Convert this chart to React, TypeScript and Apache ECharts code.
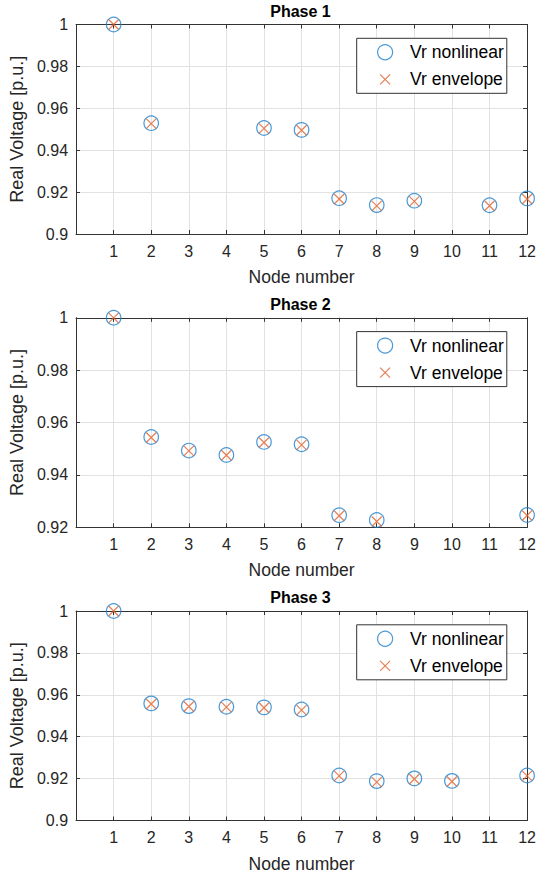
import React, { useEffect, useRef } from "react";
import * as echarts from "echarts";

const nodes = [1, 2, 3, 4, 5, 6, 7, 8, 9, 10, 11, 12];
const xTickLabels = ["", "1", "2", "3", "4", "5", "6", "7", "8", "9", "10", "11", "12"];
const phaseTitles = ["Phase 1", "Phase 2", "Phase 3"];
const seriesNames = ["Vr nonlinear", "Vr envelope"];
const yMins = [0.9, 0.92, 0.9];

const phase1Nonlinear = [1.0, 0.9529, null, null, 0.9506, 0.9497, 0.9171, 0.9138, 0.9159, null, 0.9137, 0.917];
const phase1Envelope = [1.0, 0.9527, null, null, 0.9504, 0.9495, 0.9167, 0.9134, 0.9156, null, 0.9135, 0.9167];
const phase2Nonlinear = [1.0, 0.9545, 0.9493, 0.9476, 0.9526, 0.9517, 0.9246, 0.9228, null, null, null, 0.9247];
const phase2Envelope = [1.0, 0.9543, 0.9492, 0.9475, 0.9524, 0.9515, 0.9244, 0.9222, null, null, null, 0.9245];
const phase3Nonlinear = [1.0, 0.9559, 0.9546, 0.9543, 0.954, 0.953, 0.9215, 0.9188, 0.9201, 0.9189, null, 0.9215];
const phase3Envelope = [1.0, 0.9556, 0.9544, 0.9541, 0.9538, 0.9527, 0.9213, 0.9183, 0.9198, 0.9186, null, 0.9213];

const nonlinearByPhase = [phase1Nonlinear, phase2Nonlinear, phase3Nonlinear];
const envelopeByPhase = [phase1Envelope, phase2Envelope, phase3Envelope];

const FONT = "'Liberation Sans', Arial, Helvetica, sans-serif";
const TEXT = "#262626";
const AXIS = "#333333";
const GRIDC = "#e2e2e2";
const BLUE = "#1f7fcc";
const ORANGE = "#e0602a";
const XPATH = "path://M0,0L10,10M0,10L10,0";
const XPATH_LEGEND = "path://M-2.5,-2.5M0,0L10,10M0,10L10,0M12.5,12.5";

const gridLeft = 73;
const gridWidth = 455;
const gridTops = [24.5, 317.8, 611];
const gridHeight = 209.5;

function pairs(vals: (number | null)[]) {
  const out: number[][] = [];
  vals.forEach((v, i) => {
    if (v !== null) out.push([nodes[i], v]);
  });
  return out;
}

function buildOption() {
  const grid: any[] = [];
  const xAxis: any[] = [];
  const yAxis: any[] = [];
  const series: any[] = [];
  const title: any[] = [];
  const legend: any[] = [];

  for (let p = 0; p < 3; p++) {
    const top = gridTops[p];
    grid.push({ left: gridLeft, top, width: gridWidth, height: gridHeight, containLabel: false });
    title.push({
      text: phaseTitles[p],
      left: gridLeft + gridWidth / 2,
      textAlign: "center",
      top: top - 21.5,
      padding: 0,
      textStyle: { fontFamily: FONT, fontSize: 16, fontWeight: "bold", color: "#000" },
    });
    xAxis.push({
      type: "value",
      gridIndex: p,
      min: 0,
      max: 12,
      interval: 1,
      position: "bottom",
      name: "Node number",
      nameLocation: "middle",
      nameGap: 34,
      nameTextStyle: { fontFamily: FONT, fontSize: 17.5, color: TEXT },
      axisLine: { show: true, onZero: false, lineStyle: { color: AXIS, width: 1 } },
      axisTick: { show: true, inside: true, length: 4, lineStyle: { color: AXIS } },
      axisLabel: {
        fontFamily: FONT,
        fontSize: 16,
        color: TEXT,
        margin: 9,
        formatter: (v: number) => xTickLabels[Math.round(v)] ?? "",
      },
      splitLine: { show: true, lineStyle: { color: GRIDC, width: 1 } },
    });
    xAxis.push({
      type: "value",
      gridIndex: p,
      min: 0,
      max: 12,
      interval: 1,
      position: "top",
      axisLine: { show: true, onZero: false, lineStyle: { color: AXIS, width: 1 } },
      axisTick: { show: true, inside: true, length: 4, lineStyle: { color: AXIS } },
      axisLabel: { show: false },
      splitLine: { show: false },
    });
    yAxis.push({
      type: "value",
      gridIndex: p,
      min: yMins[p],
      max: 1,
      interval: 0.02,
      position: "left",
      name: "Real Voltage [p.u.]",
      nameLocation: "middle",
      nameGap: 41,
      nameTextStyle: { fontFamily: FONT, fontSize: 18, color: TEXT },
      axisLine: { show: true, onZero: false, lineStyle: { color: AXIS, width: 1 } },
      axisTick: { show: true, inside: true, length: 4, lineStyle: { color: AXIS } },
      axisLabel: {
        fontFamily: FONT,
        fontSize: 16,
        color: TEXT,
        margin: 8,
        formatter: (v: number) => String(parseFloat(v.toFixed(2))),
      },
      splitLine: { show: true, lineStyle: { color: GRIDC, width: 1 } },
    });
    yAxis.push({
      type: "value",
      gridIndex: p,
      min: yMins[p],
      max: 1,
      interval: 0.02,
      position: "right",
      axisLine: { show: true, onZero: false, lineStyle: { color: AXIS, width: 1 } },
      axisTick: { show: true, inside: true, length: 4, lineStyle: { color: AXIS } },
      axisLabel: { show: false },
      splitLine: { show: false },
    });

    series.push({
      type: "scatter",
      name: seriesNames[0],
      xAxisIndex: 2 * p,
      yAxisIndex: 2 * p,
      symbol: "circle",
      symbolSize: 14.5,
      clip: false,
      z: 3,
      itemStyle: { color: "rgba(0,0,0,0)", borderColor: BLUE, borderWidth: 1.2 },
      data: pairs(nonlinearByPhase[p]),
    });
    series.push({
      type: "scatter",
      name: seriesNames[1],
      xAxisIndex: 2 * p,
      yAxisIndex: 2 * p,
      symbol: XPATH,
      symbolSize: 10,
      clip: false,
      z: 4,
      itemStyle: { color: "rgba(0,0,0,0)", borderColor: ORANGE, borderWidth: 1.2 },
      data: pairs(envelopeByPhase[p]),
    });

    legend.push({
      orient: "vertical",
      left: 356.7,
      top: top + 13.8,
      padding: [5, 3, 5, 20.3],
      itemWidth: 40,
      itemHeight: 15,
      itemGap: 9,
      selectedMode: false,
      backgroundColor: "#fff",
      borderColor: AXIS,
      borderWidth: 1,
      borderRadius: 0,
      textStyle: { fontFamily: FONT, fontSize: 17.5, color: "#000" },
      data: [
        { name: seriesNames[0], icon: "circle", itemStyle: { color: "rgba(0,0,0,0)", borderColor: BLUE, borderWidth: 1.2 } },
        { name: seriesNames[1], icon: XPATH_LEGEND, itemStyle: { color: "rgba(0,0,0,0)", borderColor: ORANGE, borderWidth: 1.2 } },
      ],
    });
  }

  return {
    animation: false,
    backgroundColor: "#fff",
    title,
    legend,
    grid,
    xAxis,
    yAxis,
    series,
  };
}

export default function App() {
  const ref = useRef<HTMLDivElement | null>(null);
  useEffect(() => {
    if (!ref.current) return;
    const chart = echarts.init(ref.current, undefined, { renderer: "svg" });
    chart.setOption(buildOption() as any);
    return () => chart.dispose();
  }, []);
  return (
    <div
      ref={ref}
      style={{ position: "absolute", left: 0, top: 0, width: 539, height: 878, background: "#fff" }}
    />
  );
}
